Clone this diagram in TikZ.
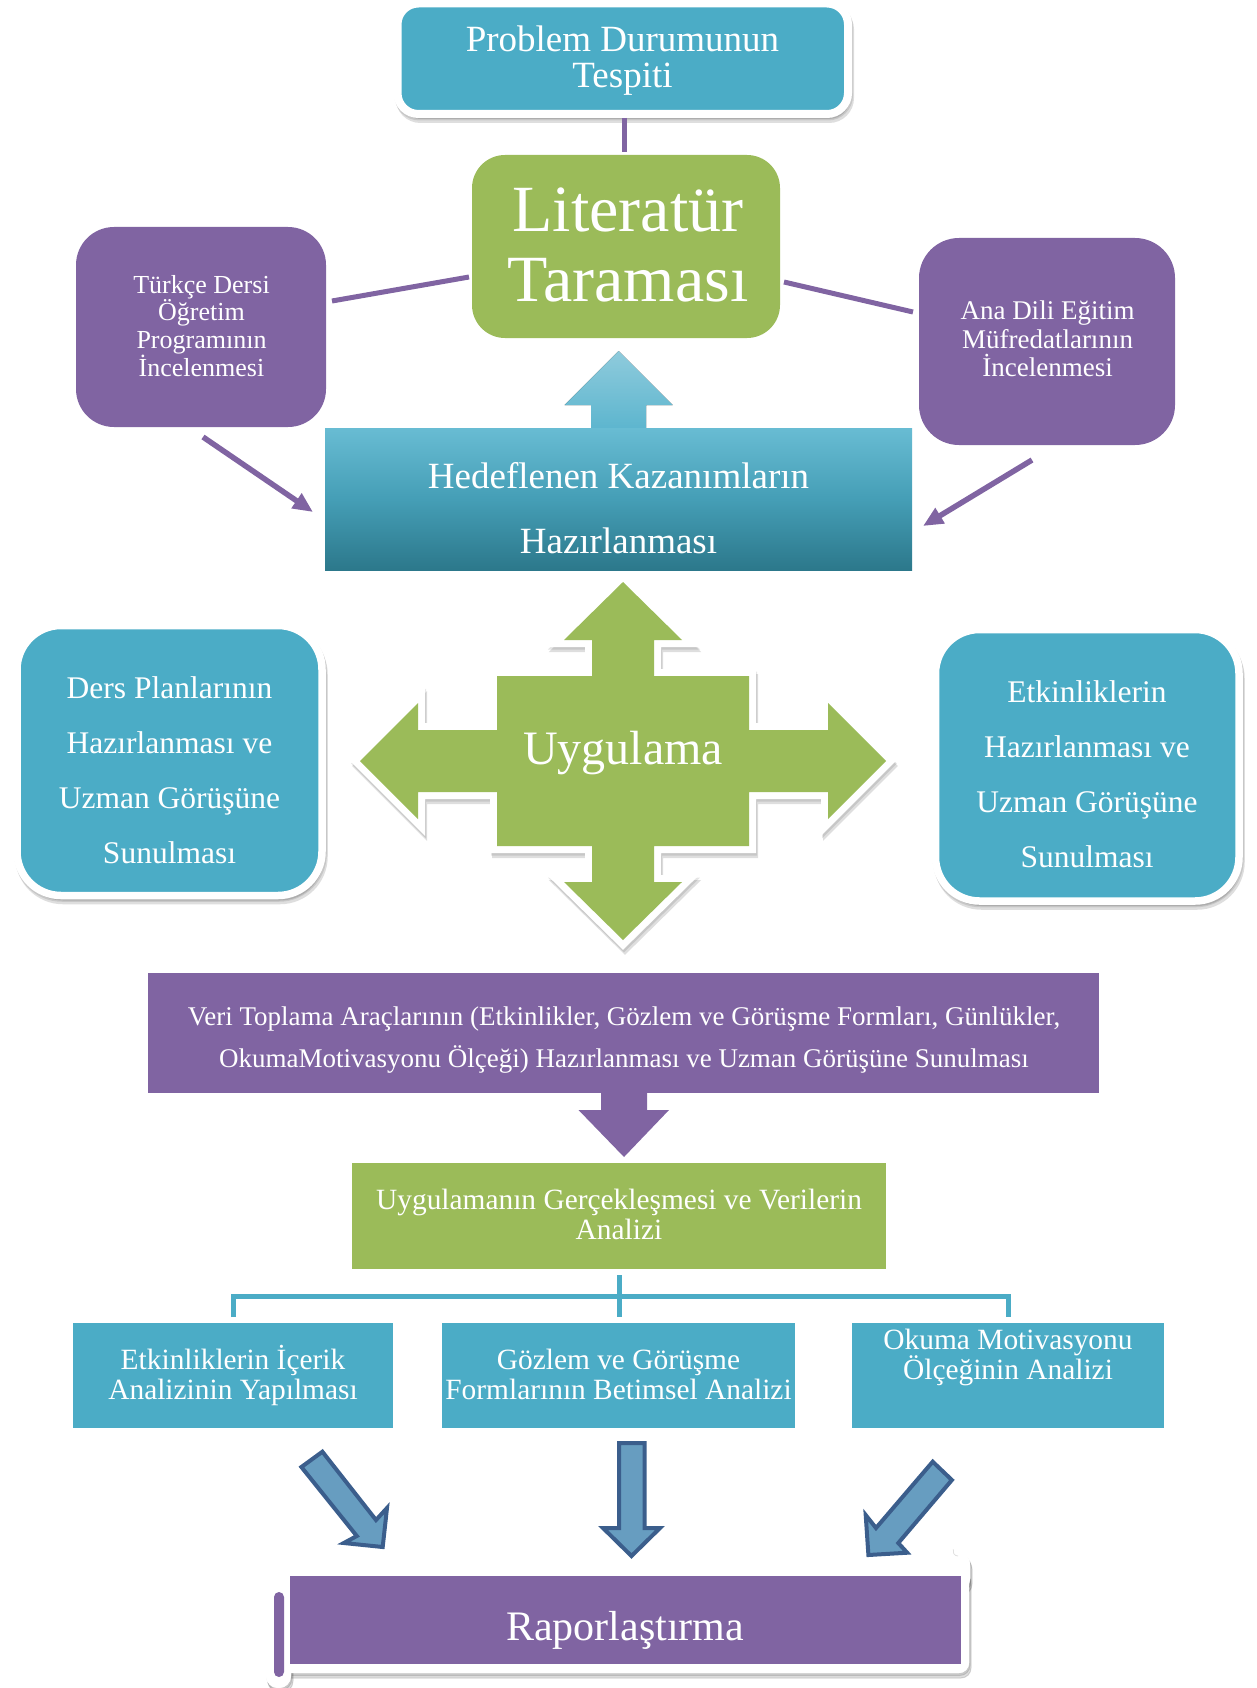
\documentclass[tikz,border=0pt]{standalone}
\usepackage{fontspec}
\setmainfont{Liberation Serif}
\usetikzlibrary{shadows,calc,arrows.meta}
\definecolor{teal4}{HTML}{4BACC6}
\definecolor{purple4}{HTML}{8064A2}
\definecolor{green4}{HTML}{9BBB59}
\definecolor{hedtop}{HTML}{68BCD3}
\definecolor{hedbot}{HTML}{2C788B}
\definecolor{uptip}{HTML}{8FCBDC}
\definecolor{upbase}{HTML}{5CB5CE}
\definecolor{bluefill}{HTML}{679DC0}
\definecolor{blueline}{HTML}{3B5E8C}
\newcommand\fsz[2]{\fontsize{#1}{#2}\selectfont\lineskiplimit=-100pt\relax}
\begin{document}
\begin{tikzpicture}[x=1pt,y=-1pt,
  softshadow/.style={drop shadow={shadow xshift=1pt,shadow yshift=-2.5pt,opacity=0.10,fill=black,draw=black,line width=#1},
                     drop shadow={shadow xshift=2pt,shadow yshift=-5pt,opacity=0.13,fill=black,draw=black,line width=#1}},
  softshadow/.default=0.1pt,
  plain/.style={inner sep=0pt,outer sep=0pt},
  txt/.style={text=white,align=center,inner sep=0pt,outer sep=0pt},
  pline/.style={purple4,line width=5pt},
  parrow/.style={purple4,line width=5.5pt,-{Triangle[length=20pt,width=17pt]}},
  tree/.style={teal4,line width=5pt},
  qback/.style={fill=white,draw=white,line width=14pt,line join=miter,softshadow=14pt},
  qfront/.style={fill=green4},
  barrow/.style={fill=bluefill,draw=blueline,line width=4pt,line join=miter},
  sback/.style={fill=white,softshadow=1pt},
  sfront/.style={fill=white}]
\useasboundingbox (0,0) rectangle (1256,1688);

% ---- top box
\node[plain,draw=white,line width=8pt,fill=teal4,rounded corners=21pt,minimum width=450.5pt,minimum height=110.5pt,softshadow=8pt] (prob) at (622.75,58.75) {};
\node[txt,font=\fsz{37}{36}] (probT) at (622.5,61) {Problem Durumunun\\Tespiti};

% ---- Literatur
\node[plain,fill=green4,rounded corners=33pt,minimum width=308pt,minimum height=183pt] (lit) at (626,246.5) {};
\node[txt,font=\fsz{66}{70}] (litT) at (628,244.5) {Literatür\\Taraması};

% ---- side purple boxes
\node[plain,fill=purple4,rounded corners=38pt,minimum width=250pt,minimum height=200pt] (turk) at (201,327) {};
\node[txt,font=\fsz{26}{27.7}] (turkT) at (201.5,325.7) {Türkçe Dersi\\Öğretim\\Programının\\İncelenmesi};
\node[plain,fill=purple4,rounded corners=40pt,minimum width=256pt,minimum height=207pt] (ana) at (1047,341.5) {};
\node[txt,font=\fsz{27}{28.5}] (anaT) at (1047.5,339) {Ana Dili Eğitim\\Müfredatlarının\\İncelenmesi};

% ---- Hedeflenen
\fill[top color=uptip,bottom color=upbase] (618.5,351) -- (672.6,405) -- (646,405) -- (646,430) -- (591,430) -- (591,405) -- (564.5,405) -- cycle;
\node[plain,top color=hedtop,bottom color=hedbot,middle color=teal4!92!black,minimum width=587pt,minimum height=142pt] (hed) at (618.5,499) {};
\node[txt,font=\fsz{37}{65}] (hedT) at (618.5,508) {Hedeflenen Kazanımların\\Hazırlanması};

% ---- connectors top
\draw[pline] ($(prob.south)+(1.25,4)$) -- ($(lit.north)+(-2,-3)$);
\draw[pline] ($(turk.east)+(6,-26)$) -- ($(lit.west)+(-3,30.5)$);
\draw[pline] ($(lit.east)+(4,35.5)$) -- ($(ana.west)+(-6,-29.5)$);
\draw[parrow] ($(turk.south)+(2,10)$) -- ($(hed.west)+(-12,13)$);
\draw[parrow] ($(ana.south)+(-15,15)$) -- ($(hed.east)+(11,27)$);

% ---- quad arrow
\begin{scope}[shift={(623,761)}]
\foreach \st in {qback,qfront}
  \path[\st] (0,-179) -- (59,-121) -- (31,-121) -- (31,-85) -- (126,-85) -- (126,-31) -- (205,-31) -- (205,-58) -- (263,0) -- (205,58) -- (205,31) -- (126,31) -- (126,85) -- (31,85) -- (31,121) -- (59,121) -- (0,179) -- (-59,121) -- (-31,121) -- (-31,85) -- (-126,85) -- (-126,31) -- (-205,31) -- (-205,58) -- (-263,0) -- (-205,-58) -- (-205,-31) -- (-126,-31) -- (-126,-85) -- (-31,-85) -- (-31,-121) -- (-59,-121) -- cycle;
\end{scope}
\node[txt,font=\fsz{48}{50},anchor=base] (uyg) at (623,764) {Uygulama};

% ---- side teal boxes
\node[plain,draw=white,line width=7.5pt,fill=teal4,rounded corners=44pt,minimum width=305pt,minimum height=270pt,softshadow=7.5pt] (ders) at (169.5,760.5) {};
\node[txt,font=\fsz{31.5}{55}] (dersT) at (169.5,769.8) {Ders Planlarının\\Hazırlanması ve\\Uzman Görüşüne\\Sunulması};
\node[plain,draw=white,line width=7.5pt,fill=teal4,rounded corners=44pt,minimum width=303.5pt,minimum height=271.5pt,softshadow=7.5pt] (etk) at (1087.25,765.25) {};
\node[txt,font=\fsz{31.5}{55}] (etkT) at (1087,774.3) {Etkinliklerin\\Hazırlanması ve\\Uzman Görüşüne\\Sunulması};

% ---- Veri toplama
\node[plain,fill=purple4,minimum width=951pt,minimum height=120pt] (veri) at (623.5,1033) {};
\node[txt,font=\fsz{27}{42}] (veriT) at (624,1040.5) {Veri Toplama Araçlarının (Etkinlikler, Gözlem ve Görüşme Formları, Günlükler,\\OkumaMotivasyonu Ölçeği) Hazırlanması ve Uzman Görüşüne Sunulması};
\fill[purple4] ($(veri.south)+(-22.5,-3)$) -- ++(46,0) -- ++(0,20) -- ++(22,0) -- ($(veri.south)+(0.5,64)$) -- ++(-45.5,-47) -- ++(22.5,0) -- cycle;

% ---- Uygulamanin
\node[plain,fill=green4,minimum width=534pt,minimum height=106pt] (gerc) at (619,1216) {};
\node[txt,font=\fsz{29.4}{30}] (gercT) at (619,1214) {Uygulamanın Gerçekleşmesi ve Verilerin\\Analizi};

% ---- three boxes
\node[plain,fill=teal4,minimum width=320pt,minimum height=105pt] (b1) at (233,1375.5) {};
\node[plain,fill=teal4,minimum width=353pt,minimum height=105pt] (b2) at (618.5,1375.5) {};
\node[plain,fill=teal4,minimum width=312pt,minimum height=105pt] (b3) at (1008,1375.5) {};
\node[txt,font=\fsz{29.4}{30}] (b1T) at (233,1375) {Etkinliklerin İçerik\\Analizinin Yapılması};
\node[txt,font=\fsz{29.4}{30}] (b2T) at (618.5,1374) {Gözlem ve Görüşme\\Formlarının Betimsel Analizi};
\node[txt,font=\fsz{29.4}{30}] (b3T) at (1008,1357) {Okuma Motivasyonu\\Ölçeğinin Analizi};

% ---- tree connector
\draw[tree] ($(gerc.south)+(0,6)$) -- ($(b2.north)+(0.5,-6)$);
\draw[tree] ($(b1.north)+(0,-6)$) |- ($(b3.north)+(0,-27)$) -- ($(b3.north)+(0,-6)$);

% ---- blue arrows
\path[barrow] (322.4,1451.7) -- (376,1520) -- (387,1508) -- (382.7,1547) -- (343.8,1543) -- (356.8,1536) -- (301.4,1467) -- cycle;
\path[barrow] (619,1443) -- (644.5,1443) -- (644.5,1528) -- (660,1528) -- (631.5,1556) -- (603,1528) -- (619,1528) -- cycle;
\path[barrow] (932.7,1461.7) -- (951.9,1480) -- (898.3,1543) -- (907.2,1552.7) -- (868.4,1555) -- (865.7,1515) -- (876,1528) -- cycle;

% ---- scroll
\foreach \st in {sback,sfront} {
  \path[\st,rounded corners=10pt] (266,1568) rectangle (969,1673);
  \path[\st,rounded corners=12pt] (266,1572) rectangle (291,1688);
  \path[\st,rounded corners=11pt] (946,1553) rectangle (970,1590);
}
\draw[black!12,line width=0.8pt] (958,1556) arc[start angle=90,end angle=200,radius=5];
\fill[purple4,rounded corners=5pt] (274,1592) rectangle (284,1677);
\node[plain,fill=purple4,minimum width=671.4pt,minimum height=88pt] (rap) at (625.3,1620) {};
\node[txt,font=\fsz{42}{44},anchor=base] (rapT) at (625,1640) {Raporlaştırma};
\end{tikzpicture}
\end{document}
